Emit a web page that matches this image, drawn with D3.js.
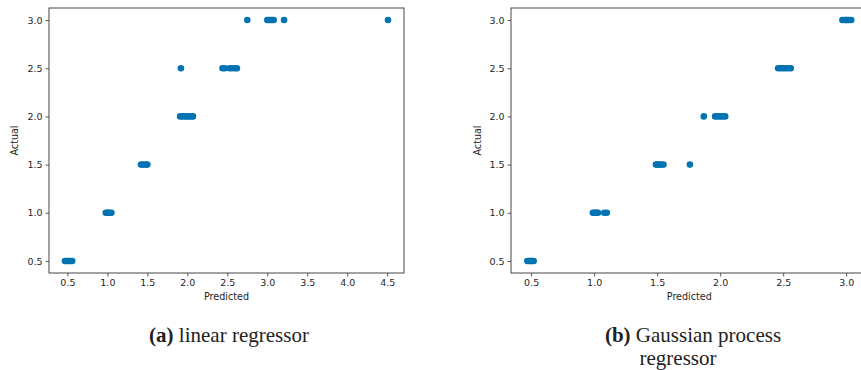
<!DOCTYPE html>
<html>
<head>
<meta charset="utf-8">
<script src="https://cdn.jsdelivr.net/npm/d3@7"></script>
<style>
  body { margin: 0; background: #fff; }
  svg { display: block; }
  .tick text { font-family: "DejaVu Sans", sans-serif; font-size: 9.5px; fill: #262626; }
  .axis-label { font-family: "DejaVu Sans", sans-serif; font-size: 9.6px; fill: #262626; }
  .caption { font-family: "Liberation Serif", serif; font-size: 21px; fill: #222; }
</style>
</head>
<body>
<svg id="chart"></svg>
<script>
// actual rating levels / tick values
const actualTicks = [0.5, 1.0, 1.5, 2.0, 2.5, 3.0];
const linearTicks = [0.5, 1.0, 1.5, 2.0, 2.5, 3.0, 3.5, 4.0, 4.5];
const gpTicks = [0.5, 1.0, 1.5, 2.0, 2.5, 3.0];

// (a) linear regressor
const linearPredicted = [
  0.47, 0.49, 0.50, 0.52, 0.54, 0.56,
  0.98, 1.00, 1.01, 1.03, 1.05,
  1.42, 1.45, 1.48, 1.50,
  1.91, 1.94, 1.97, 2.00, 2.02, 2.05, 2.07,
  1.92, 2.44, 2.47, 2.53, 2.56, 2.60, 2.62,
  2.75, 3.00, 3.02, 3.04, 3.06, 3.08, 3.21, 4.51
];
const linearActual = [
  0.5, 0.5, 0.5, 0.5, 0.5, 0.5,
  1.0, 1.0, 1.0, 1.0, 1.0,
  1.5, 1.5, 1.5, 1.5,
  2.0, 2.0, 2.0, 2.0, 2.0, 2.0, 2.0,
  2.5, 2.5, 2.5, 2.5, 2.5, 2.5, 2.5,
  3.0, 3.0, 3.0, 3.0, 3.0, 3.0, 3.0, 3.0
];

// (b) Gaussian process regressor
const gpPredicted = [
  0.47, 0.48, 0.49, 0.50, 0.51, 0.52,
  0.99, 1.00, 1.01, 1.02, 1.03, 1.08, 1.10,
  1.49, 1.50, 1.51, 1.52, 1.53, 1.55, 1.76,
  1.87, 1.96, 1.98, 2.00, 2.02, 2.04,
  2.46, 2.48, 2.50, 2.52, 2.54, 2.56,
  2.97, 2.99, 3.00, 3.01, 3.02, 3.04
];
const gpActual = [
  0.5, 0.5, 0.5, 0.5, 0.5, 0.5,
  1.0, 1.0, 1.0, 1.0, 1.0, 1.0, 1.0,
  1.5, 1.5, 1.5, 1.5, 1.5, 1.5, 1.5,
  2.0, 2.0, 2.0, 2.0, 2.0, 2.0,
  2.5, 2.5, 2.5, 2.5, 2.5, 2.5,
  3.0, 3.0, 3.0, 3.0, 3.0, 3.0
];

const width = 861, height = 370;
const dotColor = "#0173b2";
const frameColor = "#333";

const svg = d3.select("#chart").attr("width", width).attr("height", height);

const y = d3.scaleLinear().domain([0.375, 3.125]).range([273, 8]);

function drawPanel(opts) {
  const x = d3.scaleLinear().domain(opts.xDomain).range(opts.xRange);
  const g = svg.append("g");
  const [x0, x1] = opts.xRange;

  // points
  g.append("g")
    .selectAll("circle")
    .data(opts.predicted.map((p, i) => [p, opts.actual[i]]))
    .join("circle")
    .attr("cx", d => x(d[0]))
    .attr("cy", d => y(d[1]))
    .attr("r", 3.3)
    .attr("fill", dotColor);

  // axes
  const xAxis = g.append("g")
    .attr("transform", `translate(0,${y.range()[0]})`)
    .call(d3.axisBottom(x).tickValues(opts.xTicks).tickFormat(d3.format(".1f")).tickSize(3.5).tickPadding(3));
  const yAxis = g.append("g")
    .attr("transform", `translate(${x0},0)`)
    .call(d3.axisLeft(y).tickValues(actualTicks).tickFormat(d3.format(".1f")).tickSize(3.5).tickPadding(3));
  [xAxis, yAxis].forEach(a => {
    a.select(".domain").remove();
    a.selectAll(".tick line").attr("stroke", frameColor).attr("stroke-width", 0.8);
  });

  // frame
  g.append("rect")
    .attr("x", x0).attr("y", y.range()[1])
    .attr("width", x1 - x0).attr("height", y.range()[0] - y.range()[1])
    .attr("fill", "none").attr("stroke", frameColor).attr("stroke-width", 0.9);

  g.append("text").attr("class", "axis-label")
    .attr("x", (x0 + Math.min(x1, opts.clipRight || x1)) / 2 + (opts.labelShift || 0))
    .attr("y", 300).attr("text-anchor", "middle").text("Predicted");

  g.append("text").attr("class", "axis-label")
    .attr("transform", `translate(${opts.yLabelX},${(y.range()[0] + y.range()[1]) / 2}) rotate(-90)`)
    .attr("text-anchor", "middle").text("Actual");

  // caption
  const cap = g.append("text").attr("class", "caption").attr("text-anchor", "middle");
  opts.caption.forEach((line, i) => {
    const t = cap.append("tspan").attr("x", opts.captionX[i]).attr("y", 342 + i * 23);
    if (line.tag) t.append("tspan").attr("font-weight", "bold").text(line.tag + " ");
    t.append("tspan").text(line.text);
  });
}

drawPanel({
  predicted: linearPredicted, actual: linearActual,
  xDomain: [0.27, 4.71], xRange: [49, 404], xTicks: linearTicks,
  yLabelX: 18,
  caption: [{ tag: "(a)", text: "linear regressor" }],
  captionX: [229]
});

drawPanel({
  predicted: gpPredicted, actual: gpActual,
  xDomain: [0.34, 3.17], xRange: [511, 867.6], xTicks: gpTicks,
  yLabelX: 481,
  caption: [{ tag: "(b)", text: "Gaussian process" }, { text: "regressor" }],
  captionX: [693, 678]
});
</script>
</body>
</html>
